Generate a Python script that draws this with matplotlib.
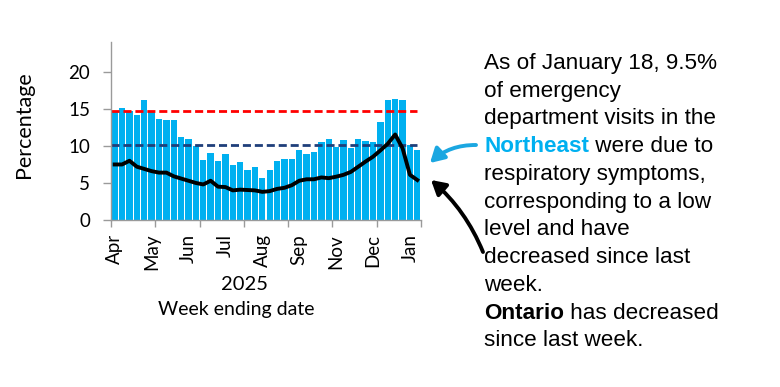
import matplotlib
matplotlib.use('Agg')
import matplotlib.pyplot as plt
import numpy as np

# ---- data (weekly, Apr 2025 -> Jan 18) ----
pct_ed_visits = [14.7, 15.1, 14.7, 14.2, 16.2, 14.7, 13.7, 13.5, 13.5, 11.2,
                 10.9, 10.0, 8.1, 9.0, 8.0, 8.9, 7.4, 7.8, 6.7, 7.1,
                 5.7, 6.7, 8.0, 8.2, 8.2, 9.4, 8.9, 9.2, 10.5, 11.0,
                 9.8, 10.8, 9.7, 11.0, 10.65, 10.5, 13.3, 16.2, 16.3, 16.2,
                 10.1, 9.5]
ontario_pct = [7.5, 7.5, 8.0, 7.2, 6.9, 6.6, 6.4, 6.4, 5.9, 5.6,
               5.3, 5.0, 4.8, 5.3, 4.5, 4.45, 4.0, 4.1, 4.05, 4.0,
               3.8, 3.9, 4.2, 4.35, 4.7, 5.3, 5.5, 5.5, 5.75, 5.65,
               5.85, 6.1, 6.5, 7.2, 7.9, 8.55, 9.4, 10.3, 11.55, 9.7,
               6.1, 5.4]
high_threshold = 14.75
low_threshold = 10.15
month_labels = ['Apr', 'May', 'Jun', 'Jul', 'Aug', 'Sep', 'Nov', 'Dec', 'Jan']
month_label_pos = [0, 5, 10, 15, 20, 25, 30, 35, 40]
month_tick_pos = [-0.5, 5.5, 11.5, 17.5, 23.5, 29.5, 35.5, 41.5]

# each line is a list of (text, weight, colour) runs
text_lines = [
    [('As of January 18, 9.5%', 'normal', 'black')],
    [('of emergency', 'normal', 'black')],
    [('department visits in the', 'normal', 'black')],
    [('Northeast', 'bold', '#00B0F0'), (' were due to', 'normal', 'black')],
    [('respiratory symptoms,', 'normal', 'black')],
    [('corresponding to a low', 'normal', 'black')],
    [('level and have', 'normal', 'black')],
    [('decreased since last', 'normal', 'black')],
    [('week.', 'normal', 'black')],
    [('Ontario', 'bold', 'black'), (' has decreased', 'normal', 'black')],
    [('since last week.', 'normal', 'black')],
]

W, H = 780, 387
BAR_BLUE = '#00B0F0'
ARROW_BLUE = '#1BA7E1'
AXIS_GRAY = '#9A9A9A'
LEFT_FONT = 'Lato'
RIGHT_FONT = 'Liberation Sans'
RIGHT_SIZE = 16.2


def fy(y_px):
    """pixel row from the top -> figure fraction"""
    return 1 - y_px / H


fig = plt.figure(figsize=(W / 100, H / 100), dpi=100)
ax = fig.add_axes([111 / W, fy(220), (421 - 111) / W, (220 - 42.3) / H])

x = np.arange(len(pct_ed_visits))
ax.bar(x, pct_ed_visits, width=0.86, color=BAR_BLUE, edgecolor='none', zorder=1)
ax.hlines(high_threshold, -0.5, len(x) - 1, colors='#FF0000', lw=2.0,
          linestyles=(0, (2.9, 1.4)), zorder=2)
ax.hlines(low_threshold, -0.5, len(x) - 1, colors='#1F3F7A', lw=2.0,
          linestyles=(0, (2.9, 1.4)), zorder=2)
ax.plot(x, ontario_pct, color='black', lw=2.8, solid_joinstyle='round', zorder=3)

ax.set_xlim(-0.5, len(x) - 0.5)
ax.set_ylim(0, 24)
ax.set_yticks([0, 5, 10, 15, 20])
ax.set_xticks(month_label_pos)
ax.set_xticklabels(month_labels, rotation=90, family=LEFT_FONT, fontsize=13.5)
ax.set_xticks(month_tick_pos, minor=True)
ax.tick_params(axis='x', which='major', length=0, pad=10)
ax.tick_params(axis='x', which='minor', length=5, width=1, color=AXIS_GRAY)
ax.tick_params(axis='y', length=6, width=1, color=AXIS_GRAY, pad=9, labelsize=13.5)
for lab in ax.get_yticklabels():
    lab.set_family(LEFT_FONT)
for side in ('top', 'right'):
    ax.spines[side].set_visible(False)
for side in ('left', 'bottom'):
    ax.spines[side].set_color(AXIS_GRAY)
    ax.spines[side].set_linewidth(1)

fig.text(24 / W, fy(125), 'Percentage', rotation=90, ha='center', va='center',
         family=LEFT_FONT, fontsize=15.5)
fig.text(245 / W, fy(284), '2025', ha='center', va='center',
         family=LEFT_FONT, fontsize=14.5)
fig.text(236 / W, fy(310), 'Week ending date', ha='center', va='center',
         family=LEFT_FONT, fontsize=14)

# ---- right-hand commentary, one line at a time so runs can be bold/coloured ----
renderer = fig.canvas.get_renderer()
for i, runs in enumerate(text_lines):
    base = fy(68.8 + i * 27.75)
    x0 = 484 / W
    for txt, weight, col in runs:
        t = fig.text(x0, base, txt, ha='left', va='baseline', family=RIGHT_FONT,
                     fontsize=RIGHT_SIZE, weight=weight, color=col)
        x0 = t.get_window_extent(renderer).x1 / W

# ---- arrows ----
ax.annotate('', xy=(430, H - 163), xytext=(476, H - 145),
            xycoords='figure pixels', textcoords='figure pixels',
            annotation_clip=False,
            arrowprops=dict(arrowstyle='-|>,head_length=0.7,head_width=0.4',
                            mutation_scale=12, color=ARROW_BLUE, lw=2.8,
                            shrinkA=0, shrinkB=0,
                            connectionstyle='arc3,rad=0.2'))
ax.annotate('', xy=(431, H - 180), xytext=(483, H - 252),
            xycoords='figure pixels', textcoords='figure pixels',
            annotation_clip=False,
            arrowprops=dict(arrowstyle='-|>,head_length=0.7,head_width=0.4',
                            mutation_scale=12, color='black', lw=2.8,
                            shrinkA=0, shrinkB=0,
                            connectionstyle='arc3,rad=0.12'))

fig.savefig('out.png', dpi=100)
